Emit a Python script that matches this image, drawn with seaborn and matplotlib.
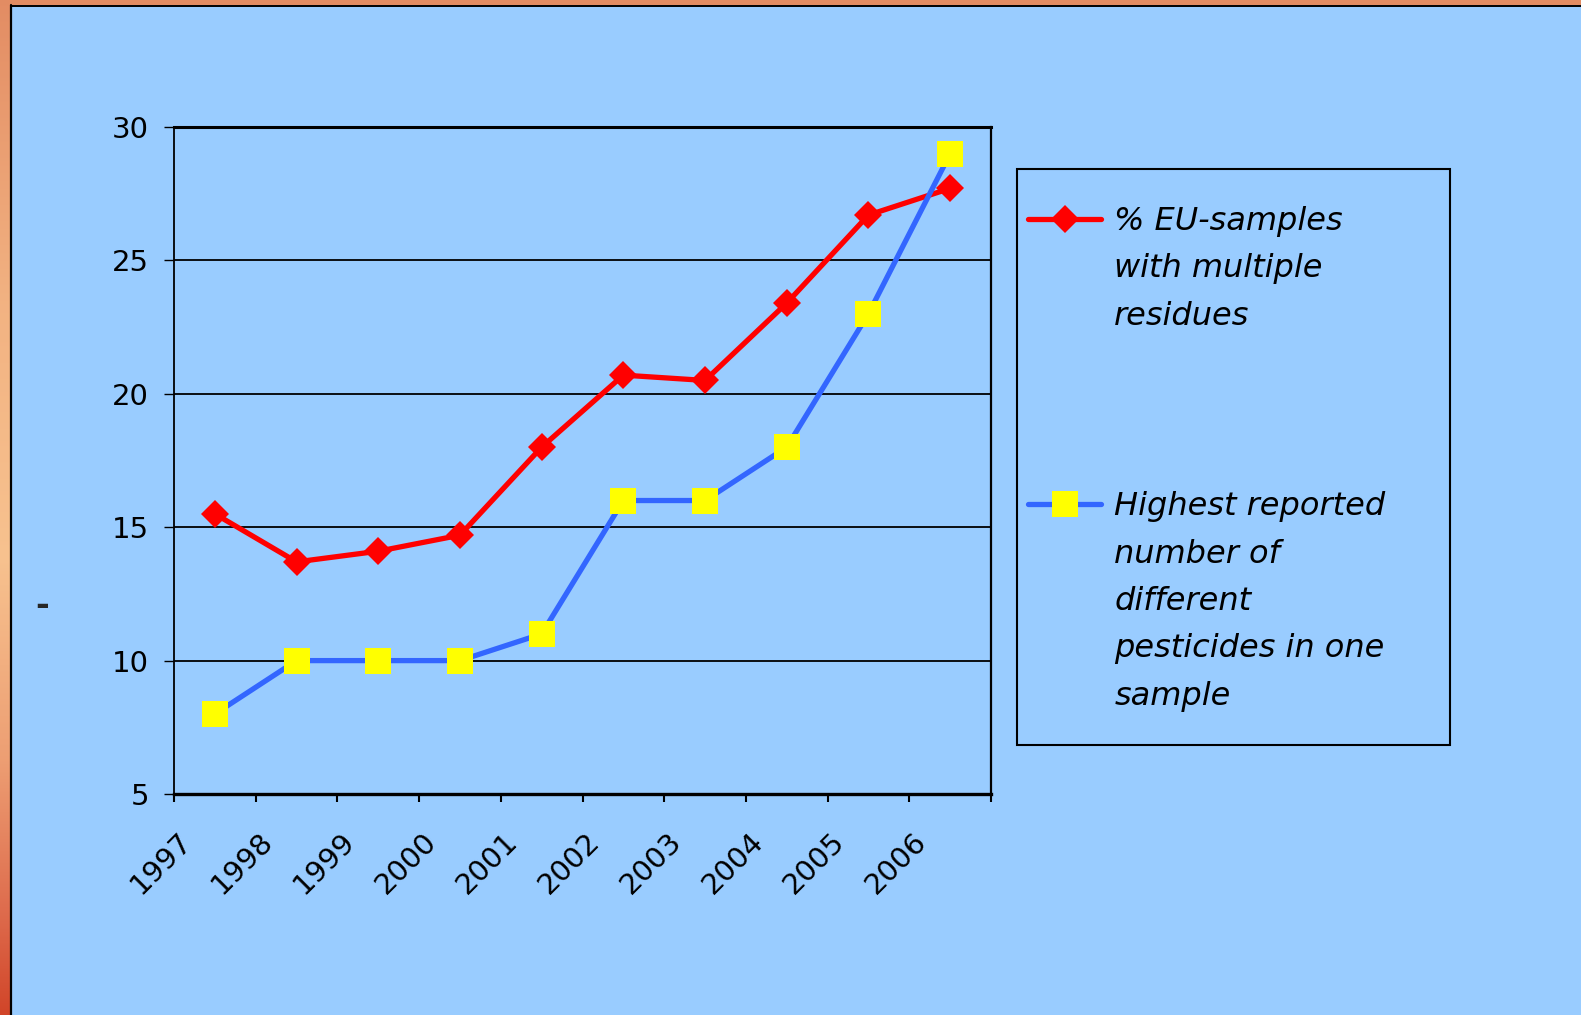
import numpy as np
import pandas as pd
import matplotlib
matplotlib.use('Agg')
import matplotlib.pyplot as plt
import seaborn as sns
from matplotlib.lines import Line2D
from matplotlib.patches import Rectangle
from matplotlib.transforms import ScaledTranslation

# data
years = [1997, 1998, 1999, 2000, 2001, 2002, 2003, 2004, 2005, 2006]
eu_multi_pct = [15.5, 13.7, 14.1, 14.7, 18.0, 20.7, 20.5, 23.4, 26.7, 27.7]
max_pesticides = [8, 10, 10, 10, 11, 16, 16, 18, 23, 29]
y_ticks = [5, 10, 15, 20, 25, 30]
label_eu = "% EU-samples\nwith multiple\nresidues"
label_max = "Highest reported\nnumber of\ndifferent\npesticides in one\nsample"

BG = '#99CCFF'
W, H = 1581, 1015

sns.set_style('white')
plt.rcParams['font.family'] = ['DejaVu Sans']

fig = plt.figure(figsize=(W / 100, H / 100), dpi=100, facecolor=BG)

# slide frame: gradient strip on the left, strip on top
t = np.linspace(0, 1, H)
stops = np.array([0.0, 0.3, 0.55, 0.75, 0.9, 1.0])
cols = np.array([[0.89, 0.55, 0.39], [0.95, 0.70, 0.51], [0.97, 0.76, 0.56],
                 [0.93, 0.62, 0.45], [0.87, 0.42, 0.30], [0.82, 0.27, 0.16]])
grad = np.stack([np.interp(t, stops, cols[:, k]) for k in range(3)], axis=1)
left_strip = np.repeat(grad[:, None, :], 10, axis=1)
fig.figimage(left_strip, xo=0, yo=0, origin='upper')
top_strip = np.ones((5, W, 3)) * np.array([0.89, 0.55, 0.39])
fig.figimage(top_strip, xo=0, yo=H - 5, origin='upper')
fig.add_artist(Line2D([11 / W, 11 / W], [0, 1 - 5 / H], color='black', lw=1.6,
                      transform=fig.transFigure))
fig.add_artist(Line2D([11 / W, 1], [1 - 5.5 / H, 1 - 5.5 / H], color='black', lw=1.4,
                      transform=fig.transFigure))

ax = fig.add_axes([174 / W, 1 - 794 / H, (991 - 174) / W, (794 - 127) / H])
ax.set_facecolor(BG)

df = pd.DataFrame({'year': years, 'eu': eu_multi_pct, 'maxp': max_pesticides})
sns.lineplot(data=df, x='year', y='eu', ax=ax, color='#FF0000', lw=3.8,
             marker='D', markersize=14.5, markeredgewidth=0, label=label_eu)
sns.lineplot(data=df, x='year', y='maxp', ax=ax, color='#3366FF', lw=3.8,
             marker='s', markersize=19, markerfacecolor='#FFFF00',
             markeredgewidth=0, label=label_max)

ax.set_xlim(years[0] - 0.5, years[-1] + 0.5)
ax.set_ylim(y_ticks[0], y_ticks[-1])
ax.set_yticks(y_ticks)
ax.set_xticks(np.arange(len(years) + 1) + years[0] - 0.5)
ax.set_xticklabels([str(y) for y in years] + [''])
ax.set_xlabel('')
ax.set_ylabel('-', rotation=0, fontsize=24, fontweight='bold', ha='center', va='center')
ax.yaxis.set_label_coords(-0.1616, 0.283)

ax.yaxis.grid(True, color='black', lw=1.3)
ax.set_axisbelow(True)
for side, lw in [('top', 2.2), ('bottom', 2.4), ('left', 1.3), ('right', 1.6)]:
    ax.spines[side].set_visible(True)
    ax.spines[side].set_color('black')
    ax.spines[side].set_linewidth(lw)

ax.tick_params(axis='y', direction='out', length=7, width=1, pad=11,
               labelsize=21, colors='black', left=True)
ax.tick_params(axis='x', direction='out', length=6, width=1.5, pad=44,
               labelsize=21, colors='black', bottom=True)
shift = ScaledTranslation(-0.13, 0, fig.dpi_scale_trans)
for lbl in ax.get_xticklabels():
    lbl.set_rotation(45)
    lbl.set_ha('center')
    lbl.set_va('center')
    lbl.set_rotation_mode('anchor')
    lbl.set_transform(lbl.get_transform() + shift)

# legend: frameless, box drawn separately
leg = ax.legend(loc='upper left', bbox_to_anchor=(1028 / W, 1 - 206 / H),
                bbox_transform=fig.transFigure, frameon=False,
                prop=dict(style='italic', size=23), handlelength=2.3,
                handletextpad=0.4, labelspacing=5.0, borderpad=0, borderaxespad=0)
step_px = 47.5
for txt in leg.get_texts():
    txt.set_linespacing(1.68)
    txt.set_color('black')
# put each handle level with the first line of its label
for hnd, lab in zip(leg.legend_handles, [label_eu, label_max]):
    n = lab.count('\n') + 1
    hnd.set_ydata(np.asarray(hnd.get_ydata()) + ((n - 1) / 2 * step_px + 3.5) * 0.72)

fig.add_artist(Rectangle((1017 / W, 1 - 745 / H), (1450 - 1017) / W, (745 - 169) / H,
                         transform=fig.transFigure, fill=False, ec='black', lw=1.5))

fig.savefig('out.png', dpi=100, facecolor=BG)
